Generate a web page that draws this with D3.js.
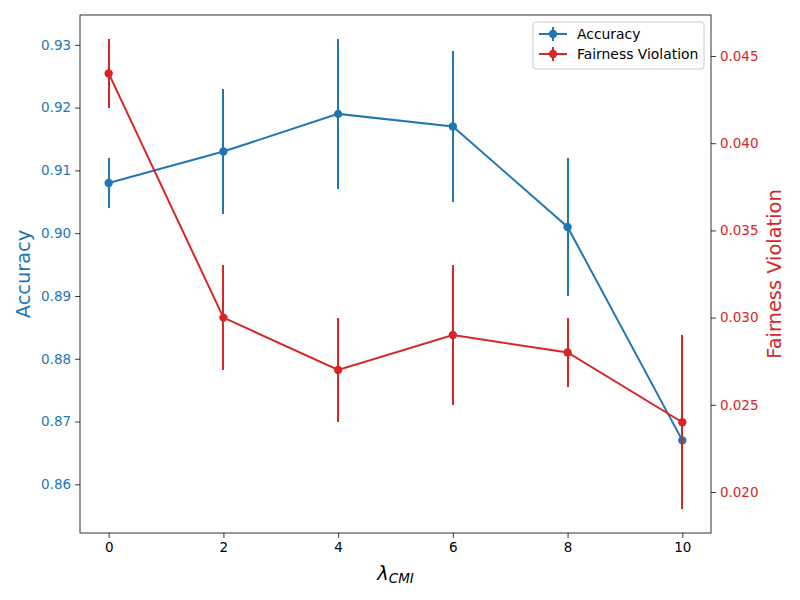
<!DOCTYPE html>
<html>
<head>
<meta charset="utf-8">
<script src="https://cdn.jsdelivr.net/npm/d3@7"></script>
<style>
  body { margin: 0; background: #fff; }
  text { font-family: 'DejaVu Sans', sans-serif; }
</style>
</head>
<body>
<div id="chart"></div>
<script>
const lambdas = [0, 2, 4, 6, 8, 10];
const accuracy = [0.908, 0.913, 0.919, 0.917, 0.901, 0.867];
const accuracyErr = [0.004, 0.010, 0.012, 0.012, 0.011, 0.011];
const fairness = [0.044, 0.030, 0.027, 0.029, 0.028, 0.024];
const fairnessErr = [0.002, 0.003, 0.003, 0.004, 0.002, 0.005];

const xTicks = [0, 2, 4, 6, 8, 10];
const accTicks = [0.86, 0.87, 0.88, 0.89, 0.90, 0.91, 0.92, 0.93];
const fairTicks = [0.020, 0.025, 0.030, 0.035, 0.040, 0.045];

const blue = '#1f77b4';
const red = '#d62728';

const width = 800, height = 600;
const plotLeft = 80, plotRight = 711, plotTop = 15, plotBottom = 533;

let svg = d3.select('#chart').append('svg')
  .attr('width', width)
  .attr('height', height);

// scales, with matplotlib's 5% margins
function padded(lo, hi) {
  let m = (hi - lo) * 0.05;
  return [lo - m, hi + m];
}
let x = d3.scaleLinear().domain(padded(0, 10)).range([plotLeft, plotRight]);
let accLo = d3.min(accuracy.map((d, i) => d - accuracyErr[i]));
let accHi = d3.max(accuracy.map((d, i) => d + accuracyErr[i]));
let yAcc = d3.scaleLinear().domain(padded(accLo, accHi)).range([plotBottom, plotTop]);
let fLo = d3.min(fairness.map((d, i) => d - fairnessErr[i]));
let fHi = d3.max(fairness.map((d, i) => d + fairnessErr[i]));
let yFair = d3.scaleLinear().domain(padded(fLo, fHi)).range([plotBottom, plotTop]);

// axes
let xAxis = svg.append('g')
  .attr('transform', 'translate(0,' + plotBottom + ')')
  .call(d3.axisBottom(x).tickValues(xTicks).tickSize(4.9).tickPadding(5).tickFormat(d3.format('d')));
let lAxis = svg.append('g')
  .attr('transform', 'translate(' + plotLeft + ',0)')
  .call(d3.axisLeft(yAcc).tickValues(accTicks).tickSize(4.9).tickPadding(4).tickFormat(d3.format('.2f')));
let rAxis = svg.append('g')
  .attr('transform', 'translate(' + plotRight + ',0)')
  .call(d3.axisRight(yFair).tickValues(fairTicks).tickSize(4.9).tickPadding(4).tickFormat(d3.format('.3f')));

for (let ax of [xAxis, lAxis, rAxis]) {
  ax.select('.domain').remove();
  ax.selectAll('line').attr('stroke', '#000').attr('stroke-width', 0.8);
  ax.selectAll('text').attr('font-size', 13.5).attr('font-family', 'DejaVu Sans');
}
xAxis.selectAll('text').attr('fill', '#000');
lAxis.selectAll('text').attr('fill', blue);
rAxis.selectAll('text').attr('fill', red);

// frame
svg.append('rect')
  .attr('x', plotLeft).attr('y', plotTop)
  .attr('width', plotRight - plotLeft).attr('height', plotBottom - plotTop)
  .attr('fill', 'none').attr('stroke', '#000').attr('stroke-width', 0.8);

// series
function drawSeries(values, errs, yScale, color) {
  let g = svg.append('g');
  g.selectAll('line.err').data(values).enter().append('line')
    .attr('x1', (d, i) => Math.round(x(lambdas[i])))
    .attr('x2', (d, i) => Math.round(x(lambdas[i])))
    .attr('y1', (d, i) => yScale(d - errs[i]))
    .attr('y2', (d, i) => yScale(d + errs[i]))
    .attr('shape-rendering', 'crispEdges')
    .attr('stroke', color).attr('stroke-width', 2);
  let line = d3.line().x((d, i) => x(lambdas[i])).y(d => yScale(d));
  g.append('path').attr('d', line(values))
    .attr('fill', 'none').attr('stroke', color).attr('stroke-width', 2);
  g.selectAll('circle').data(values).enter().append('circle')
    .attr('cx', (d, i) => x(lambdas[i]))
    .attr('cy', d => yScale(d))
    .attr('r', 4.2)
    .attr('fill', color);
}
drawSeries(accuracy, accuracyErr, yAcc, blue);
drawSeries(fairness, fairnessErr, yFair, red);

// axis titles
svg.append('text')
  .attr('transform', 'translate(30,' + ((plotTop + plotBottom) / 2) + ') rotate(-90)')
  .attr('text-anchor', 'middle')
  .attr('font-size', 19.4)
  .attr('fill', blue)
  .text('Accuracy');
svg.append('text')
  .attr('transform', 'translate(781,' + ((plotTop + plotBottom) / 2) + ') rotate(-90)')
  .attr('text-anchor', 'middle')
  .attr('font-size', 19.4)
  .attr('fill', red)
  .text('Fairness Violation');
let xl = svg.append('text')
  .attr('x', (plotLeft + plotRight) / 2)
  .attr('y', 580)
  .attr('text-anchor', 'middle')
  .attr('font-size', 19.4)
  .attr('font-style', 'italic')
  .attr('fill', '#000');
xl.append('tspan').text('λ');
xl.append('tspan').attr('font-size', 13.5).attr('dy', 3).text('CMI');

// legend
let lg = svg.append('g').attr('transform', 'translate(533,22)');
lg.append('rect')
  .attr('width', 171).attr('height', 47).attr('rx', 3)
  .attr('fill', '#fff').attr('fill-opacity', 0.8)
  .attr('stroke', '#ccc').attr('stroke-width', 1);
const legendItems = [['Accuracy', blue], ['Fairness Violation', red]];
legendItems.forEach((item, i) => {
  let cy = 12 + i * 20;
  lg.append('line').attr('x1', 6).attr('x2', 34).attr('y1', cy).attr('y2', cy)
    .attr('stroke', item[1]).attr('stroke-width', 2);
  lg.append('line').attr('x1', 20).attr('x2', 20).attr('y1', cy - 7).attr('y2', cy + 7)
    .attr('stroke', item[1]).attr('stroke-width', 2);
  lg.append('circle').attr('cx', 20).attr('cy', cy).attr('r', 4.2).attr('fill', item[1]);
  lg.append('text').attr('x', 44).attr('y', cy + 5)
    .attr('font-size', 13.9).attr('fill', '#000').text(item[0]);
});
</script>
</body>
</html>
